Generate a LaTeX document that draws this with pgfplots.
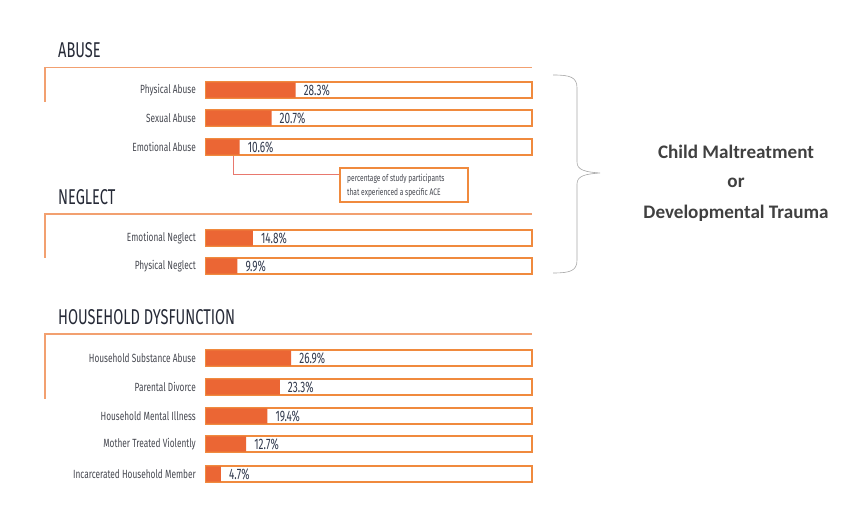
\documentclass[border=0pt]{standalone}
\usepackage{pgfplots}
\pgfplotsset{compat=1.18}
\usepackage{pgfplotstable}
\usepackage{fontspec}
\setmainfont{Fira Sans}
\newfontfamily\cond[FakeStretch=0.7]{Fira Sans}
\newfontfamily\vcond[FakeStretch=0.66]{Fira Sans}
\newfontfamily\head[FakeStretch=0.68]{Fira Sans}
\newfontfamily\cali{Carlito}
\definecolor{barorange}{RGB}{235,102,52}
\definecolor{outl}{RGB}{240,138,62}
\definecolor{hline}{RGB}{242,160,112}
\definecolor{dark}{RGB}{38,42,55}
\definecolor{labtext}{RGB}{70,72,80}
\definecolor{valtext}{RGB}{50,58,78}
\definecolor{callline}{RGB}{232,120,110}
\definecolor{righttext}{RGB}{64,64,64}

\pgfplotstableread{
y   val  full
90  28.3 103
118 20.7 103
147 10.6 103
238 14.8 103
266 9.9  103
358 26.9 103
387 23.3 103
416 19.4 103
444 12.7 103
474 4.7  103
}\data

\begin{document}
\begin{tikzpicture}[x=1bp,y=1bp]
\path[use as bounding box] (0,0) rectangle (858,506);
% background / annotation axis in pixel coordinates
\begin{axis}[at={(0,0)}, anchor=south west, scale only axis,
  width=858bp, height=506bp, xmin=0, xmax=858, ymin=0, ymax=506,
  y dir=reverse, hide axis, clip=false]
  % headings
  \node[anchor=base west, inner sep=0pt, text=dark, font=\head\fontsize{21.5}{22}\selectfont] at (axis cs:58,57.7) {ABUSE};
  \node[anchor=base west, inner sep=0pt, text=dark, font=\head\fontsize{21.5}{22}\selectfont] at (axis cs:58,205) {NEGLECT};
  \node[anchor=base west, inner sep=0pt, text=dark, font=\head\fontsize{21.5}{22}\selectfont] at (axis cs:58,325) {HOUSEHOLD DYSFUNCTION};
  % heading lines
  \draw[hline, line width=1.6pt] (axis cs:45,101.7) -- (axis cs:45,67.7) -- (axis cs:532,67.7);
  \draw[hline, line width=1.6pt] (axis cs:45,258) -- (axis cs:45,214) -- (axis cs:532,214);
  \draw[hline, line width=1.6pt] (axis cs:45,399) -- (axis cs:45,334) -- (axis cs:532,334);
  % category labels
  \begin{scope}[every node/.style={anchor=east, inner sep=0pt, text=labtext, font=\cond\fontsize{11.9}{12}\selectfont}]
  \node at (axis cs:196,90) {Physical Abuse};
  \node at (axis cs:196,118) {Sexual Abuse};
  \node at (axis cs:196,147) {Emotional Abuse};
  \node at (axis cs:196,238) {Emotional Neglect};
  \node at (axis cs:196,266) {Physical Neglect};
  \node at (axis cs:196,358) {Household Substance Abuse};
  \node at (axis cs:196,387) {Parental Divorce};
  \node at (axis cs:196,416) {Household Mental Illness};
  \node at (axis cs:196,444) {Mother Treated Violently};
  \node at (axis cs:196,474) {Incarcerated Household Member};
  \end{scope}
  % callout
  \draw[callline, line width=1pt] (axis cs:233,155) -- (axis cs:233,175) -- (axis cs:340,175);
  \draw[outl, line width=1.2pt, fill=white] (axis cs:340,168) rectangle (axis cs:468,202);
  \node[anchor=west, inner sep=0pt, text=labtext, font=\cond\fontsize{9.5}{10}\selectfont] at (axis cs:347,178.5) {percentage of study participants};
  \node[anchor=west, inner sep=0pt, text=labtext, font=\cond\fontsize{9.5}{10}\selectfont] at (axis cs:347,192.5) {that experienced a specific ACE};
  % brace
  \draw[gray!70, line width=0.6pt] (axis cs:553,75) .. controls (axis cs:570,75) and (axis cs:577,77) .. (axis cs:577,88) -- (axis cs:577,162) .. controls (axis cs:577,170) and (axis cs:585,172) .. (axis cs:600,173) .. controls (axis cs:585,174) and (axis cs:577,176) .. (axis cs:577,184) -- (axis cs:577,260) .. controls (axis cs:577,271) and (axis cs:570,273) .. (axis cs:553,273);
  % right text
  \begin{scope}[every node/.style={anchor=center, inner sep=0pt, text=righttext, font=\cali\bfseries\fontsize{19.2}{20}\selectfont}]
  \node at (axis cs:736,152) {Child Maltreatment};
  \node at (axis cs:736,183) {or};
  \node at (axis cs:736,213) {Developmental Trauma};
  \end{scope}
\end{axis}
% bar axis
\begin{axis}[at={(206bp,0)}, anchor=south west, scale only axis,
  width=326bp, height=506bp, xmin=0, xmax=103, ymin=0, ymax=506,
  y dir=reverse, hide axis, clip=false]
  \addplot[xbar, bar shift=0pt, bar width=16, draw=outl, line width=1.3pt, fill=white]
    table[x=full, y=y] {\data};
  \addplot[xbar, bar shift=0pt, bar width=15.4, draw=none, fill=barorange,
    point meta=x,
    nodes near coords={\pgfmathprintnumber[fixed,fixed zerofill,precision=1,assume math mode=true]{\pgfplotspointmeta}\%},
    every node near coord/.append style={anchor=west, inner sep=0pt, xshift=8bp,
      text=valtext, font=\vcond\fontsize{15.2}{15}\selectfont}]
    table[x=val, y=y] {\data};
\end{axis}
\end{tikzpicture}
\end{document}
